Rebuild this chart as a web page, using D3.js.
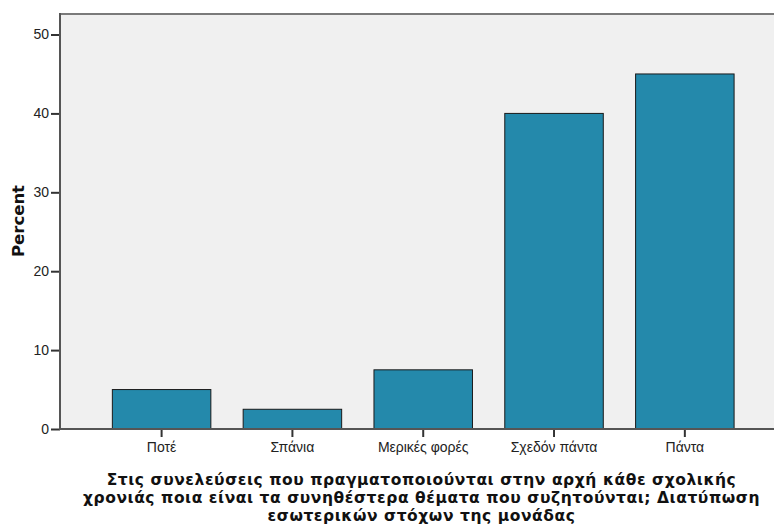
<!DOCTYPE html>
<html><head><meta charset="utf-8">
<script src="https://cdn.jsdelivr.net/npm/d3@7"></script>
<style>body{margin:0;background:#fff}</style>
</head><body>
<svg id="c" width="774" height="531"></svg>
<script>
const categories = ["Ποτέ", "Σπάνια", "Μερικές φορές", "Σχεδόν πάντα", "Πάντα"];
const percents = [5, 2.5, 7.5, 40, 45];
const yTicks = [0, 10, 20, 30, 40, 50];
const titleLines = ["Στις συνελεύσεις που πραγματοποιούνται στην αρχή κάθε σχολικής",
  "χρονιάς ποια είναι τα συνηθέστερα θέματα που συζητούνται; Διατύπωση",
  "εσωτερικών στόχων της μονάδας"];
const yLabel = "Percent";

const svg = d3.select("#c");
const L = 60, R = 774, T = 14, B = 429;
const x = d3.scaleBand().domain(categories).range([L, 772]).paddingInner(0.247).paddingOuter(0.345).align(0.58);
const y = d3.scaleLinear().domain([0, 52.6]).range([B, T]);

svg.append("rect").attr("x", L).attr("y", T).attr("width", R - L).attr("height", B - T).attr("fill", "#f0f0f0");
svg.append("line").attr("x1", L).attr("x2", R).attr("y1", T).attr("y2", T).attr("stroke", "#7a7a7a").attr("stroke-width", 2);

svg.selectAll("rect.bar").data(percents).join("rect").attr("class", "bar")
  .attr("x", (d, i) => x(categories[i])).attr("width", x.bandwidth())
  .attr("y", d => y(d)).attr("height", d => B - y(d))
  .attr("fill", "#2489ab").attr("stroke", "#1a1a1a").attr("stroke-width", 1);

const yAxis = svg.append("g").attr("transform", `translate(${L},0)`)
  .call(d3.axisLeft(y).tickValues(yTicks).tickSize(9).tickPadding(2).tickSizeOuter(0));
yAxis.select(".domain").remove();
yAxis.selectAll(".tick line").attr("stroke", "#333").attr("stroke-width", 2);
yAxis.selectAll("text").attr("font-family", "Liberation Sans, Arial, sans-serif").attr("font-size", 14).attr("fill", "#222");
svg.append("line").attr("x1", L).attr("x2", L).attr("y1", T - 1).attr("y2", B + 1).attr("stroke", "#555").attr("stroke-width", 2);

const xAxis = svg.append("g").attr("transform", `translate(0,${B})`)
  .call(d3.axisBottom(x).tickSize(8).tickPadding(5).tickSizeOuter(0));
xAxis.select(".domain").remove();
xAxis.selectAll(".tick line").attr("stroke", "#333").attr("stroke-width", 2);
xAxis.selectAll("text").attr("font-family", "Liberation Sans, Arial, sans-serif").attr("font-size", 14).attr("fill", "#222");
svg.append("line").attr("x1", L).attr("x2", R).attr("y1", B).attr("y2", B).attr("stroke", "#555").attr("stroke-width", 2);

svg.append("text").attr("transform", "translate(24,221) rotate(-90)").attr("text-anchor", "middle")
  .attr("font-family", "DejaVu Sans, sans-serif").attr("font-weight", "bold").attr("font-size", 16.5).attr("fill", "#111").text(yLabel);

const tl = svg.append("g").selectAll("text").data(titleLines).join("text")
  .attr("x", 421.5).attr("y", (d, i) => 485 + i * 18).attr("text-anchor", "middle")
  .attr("font-family", "DejaVu Sans, sans-serif").attr("font-weight", "bold").attr("font-size", 15.5).attr("fill", "#111").text(d => d);
// spread letters so the second line matches the reference width
const n2 = tl.nodes()[1];
const w = n2.getComputedTextLength();
const ls = Math.max(0, (677 - w) / titleLines[1].length);
tl.attr("letter-spacing", ls);
</script>
</body></html>
